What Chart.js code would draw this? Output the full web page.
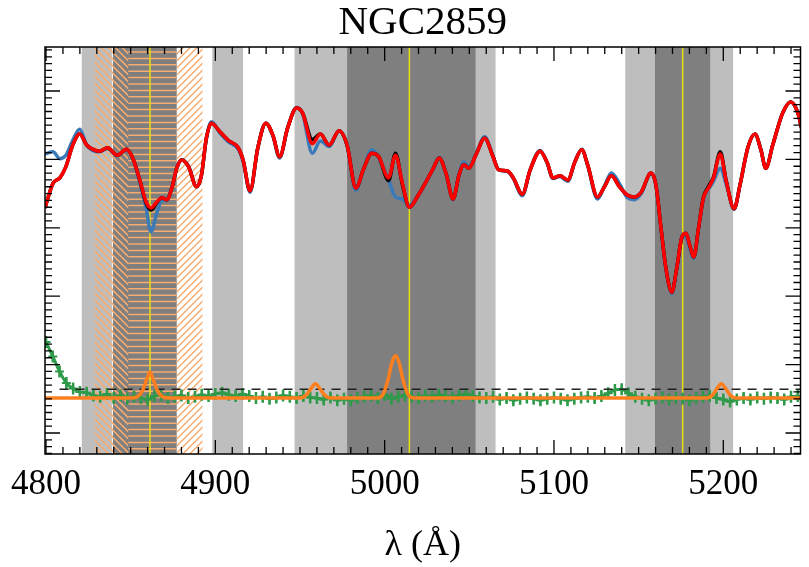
<!DOCTYPE html>
<html>
<head>
<meta charset="utf-8">
<script src="https://cdn.jsdelivr.net/npm/chart.js"></script>
<style>
  html, body { margin: 0; padding: 0; background: #fff; }
  #wrap { width: 809px; height: 567px; }
</style>
</head>
<body>
<div id="wrap"><canvas id="spec"></canvas></div>
<script>
// wavelength grid (Angstrom) shared by galaxy / best fit / stellar fit
const wave = [4799.4, 4804.1, 4808.2, 4811.7, 4815.8, 4819.9, 4824.0, 4827.5, 4831.6, 4836.3,
  4842.1, 4847.4, 4850.9, 4855.0, 4859.1, 4862.0, 4865.5, 4868.4, 4871.3, 4874.3,
  4877.2, 4880.1, 4884.2, 4888.9, 4891.8, 4894.7, 4897.7, 4902.9, 4907.6, 4913.5,
  4916.4, 4920.5, 4925.1, 4929.8, 4933.9, 4938.0, 4942.7, 4948.0, 4951.5, 4957.3,
  4962.0, 4967.3, 4973.1, 4977.8, 4983.0, 4987.7, 4992.4, 4996.5, 5002.3, 5006.4,
  5010.5, 5014.6, 5019.9, 5024.6, 5028.7, 5032.2, 5036.3, 5040.4, 5043.9, 5046.8,
  5049.7, 5053.8, 5059.1, 5063.7, 5067.3, 5072.5, 5076.0, 5081.3, 5086.0, 5091.8,
  5095.9, 5099.4, 5103.5, 5108.2, 5112.3, 5116.4, 5119.9, 5125.7, 5129.8, 5133.9,
  5138.6, 5143.3, 5147.4, 5151.5, 5157.3, 5160.2, 5163.2, 5166.1, 5169.6, 5172.5,
  5175.4, 5177.8, 5180.7, 5182.5, 5185.4, 5188.3, 5191.2, 5194.2, 5198.2, 5201.8,
  5206.4, 5209.9, 5214.6, 5218.7, 5222.2, 5225.1, 5229.2, 5235.1, 5239.8, 5243.9, 5246.2];

const bestFit = [0.629, 0.665, 0.673, 0.689, 0.721, 0.737, 0.721, 0.715, 0.712, 0.717,
  0.706, 0.715, 0.704, 0.673, 0.638, 0.629, 0.638, 0.644, 0.641, 0.658,
  0.687, 0.699, 0.689, 0.660, 0.677, 0.731, 0.753, 0.740, 0.728, 0.717,
  0.699, 0.654, 0.717, 0.753, 0.736, 0.704, 0.746, 0.775, 0.768, 0.723,
  0.737, 0.721, 0.742, 0.721, 0.658, 0.687, 0.709, 0.704, 0.673, 0.706,
  0.665, 0.630, 0.648, 0.668, 0.687, 0.702, 0.679, 0.642, 0.677, 0.692,
  0.687, 0.706, 0.731, 0.706, 0.685, 0.683, 0.673, 0.649, 0.685, 0.712,
  0.696, 0.673, 0.676, 0.670, 0.696, 0.714, 0.692, 0.645, 0.660, 0.676,
  0.660, 0.648, 0.645, 0.652, 0.680, 0.663, 0.600, 0.541, 0.506, 0.541,
  0.585, 0.592, 0.570, 0.557, 0.600, 0.644, 0.658, 0.673, 0.708, 0.667,
  0.628, 0.663, 0.718, 0.737, 0.714, 0.687, 0.721, 0.768, 0.784, 0.769, 0.746];

const stars = [0.708, 0.711, 0.701, 0.706, 0.728, 0.744, 0.721, 0.713, 0.711, 0.716,
  0.705, 0.714, 0.703, 0.670, 0.629, 0.594, 0.622, 0.640, 0.641, 0.658,
  0.687, 0.700, 0.690, 0.660, 0.677, 0.730, 0.755, 0.738, 0.726, 0.715,
  0.697, 0.652, 0.717, 0.753, 0.735, 0.702, 0.746, 0.776, 0.767, 0.709,
  0.727, 0.719, 0.742, 0.720, 0.655, 0.687, 0.714, 0.703, 0.670, 0.645,
  0.642, 0.633, 0.648, 0.668, 0.686, 0.703, 0.678, 0.641, 0.678, 0.696,
  0.689, 0.707, 0.733, 0.707, 0.685, 0.682, 0.672, 0.647, 0.685, 0.713,
  0.695, 0.672, 0.675, 0.668, 0.696, 0.715, 0.691, 0.642, 0.661, 0.680,
  0.665, 0.644, 0.641, 0.650, 0.679, 0.662, 0.599, 0.540, 0.504, 0.540,
  0.583, 0.588, 0.566, 0.555, 0.599, 0.643, 0.656, 0.668, 0.687, 0.663,
  0.627, 0.663, 0.718, 0.737, 0.714, 0.687, 0.721, 0.768, 0.784, 0.769, 0.746];

const galaxy = [0.629, 0.665, 0.673, 0.689, 0.721, 0.737, 0.721, 0.715, 0.712, 0.717,
  0.706, 0.715, 0.704, 0.673, 0.636, 0.626, 0.637, 0.644, 0.641, 0.658,
  0.687, 0.699, 0.689, 0.660, 0.677, 0.731, 0.753, 0.740, 0.728, 0.717,
  0.699, 0.654, 0.717, 0.753, 0.736, 0.704, 0.746, 0.775, 0.768, 0.729,
  0.737, 0.721, 0.742, 0.721, 0.658, 0.687, 0.709, 0.704, 0.669, 0.709,
  0.663, 0.630, 0.648, 0.668, 0.687, 0.702, 0.679, 0.642, 0.677, 0.692,
  0.687, 0.706, 0.731, 0.706, 0.685, 0.683, 0.673, 0.649, 0.685, 0.712,
  0.696, 0.673, 0.676, 0.670, 0.696, 0.714, 0.692, 0.645, 0.660, 0.676,
  0.660, 0.648, 0.645, 0.652, 0.680, 0.663, 0.600, 0.541, 0.506, 0.541,
  0.585, 0.592, 0.570, 0.557, 0.600, 0.645, 0.660, 0.674, 0.711, 0.668,
  0.628, 0.663, 0.718, 0.737, 0.714, 0.687, 0.721, 0.768, 0.784, 0.769, 0.746];

// residuals (offset), sampled every 4 A
const resWave = [4800, 4804, 4808, 4812, 4816, 4820, 4824, 4828, 4832, 4836,
  4840, 4844, 4848, 4852, 4856, 4860, 4864, 4868, 4872, 4876,
  4880, 4884, 4888, 4892, 4896, 4900, 4904, 4908, 4912, 4916,
  4920, 4924, 4928, 4932, 4936, 4940, 4944, 4948, 4952, 4956,
  4960, 4964, 4968, 4972, 4976, 4980, 4984, 4988, 4992, 4996,
  5000, 5004, 5008, 5012, 5016, 5020, 5024, 5028, 5032, 5036,
  5040, 5044, 5048, 5052, 5056, 5060, 5064, 5068, 5072, 5076,
  5080, 5084, 5088, 5092, 5096, 5100, 5104, 5108, 5112, 5116,
  5120, 5124, 5128, 5132, 5136, 5140, 5144, 5148, 5152, 5156,
  5160, 5164, 5168, 5172, 5176, 5180, 5184, 5188, 5192, 5196,
  5200, 5204, 5208, 5212, 5216, 5220, 5224, 5228, 5232, 5236, 5240, 5244];

const resid = [0.433, 0.412, 0.390, 0.373, 0.365, 0.360, 0.359, 0.355, 0.353, 0.357,
  0.351, 0.355, 0.350, 0.353, 0.351, 0.349, 0.354, 0.355, 0.351, 0.353,
  0.355, 0.351, 0.353, 0.356, 0.354, 0.357, 0.359, 0.356, 0.354, 0.357,
  0.354, 0.351, 0.353, 0.350, 0.352, 0.355, 0.353, 0.351, 0.354, 0.352,
  0.351, 0.349, 0.352, 0.348, 0.350, 0.348, 0.351, 0.353, 0.355, 0.351,
  0.356, 0.350, 0.353, 0.355, 0.353, 0.351, 0.355, 0.353, 0.356, 0.354,
  0.352, 0.355, 0.357, 0.354, 0.352, 0.351, 0.353, 0.349, 0.351, 0.348,
  0.350, 0.352, 0.350, 0.348, 0.350, 0.352, 0.350, 0.348, 0.350, 0.352,
  0.353, 0.351, 0.354, 0.358, 0.363, 0.364, 0.358, 0.353, 0.350, 0.348,
  0.350, 0.352, 0.349, 0.351, 0.350, 0.348, 0.351, 0.353, 0.354, 0.351,
  0.349, 0.346, 0.349, 0.351, 0.349, 0.352, 0.350, 0.352, 0.351, 0.349, 0.353, 0.354];

// gas emission component
const gasWave = [4799.4, 4850, 4854, 4857, 4859.5, 4861.4, 4863.3, 4865.8, 4868.8, 4873,
  4950, 4953.5, 4956.5, 4959.1, 4961.7, 4964.7, 4968,
  4995, 4999, 5002, 5004.3, 5006.4, 5008.5, 5010.8, 5013.8, 5017.5,
  5190, 5193.5, 5196.3, 5198.8, 5201.4, 5204.2, 5207.5, 5246.2];
const gas = [0.351, 0.351, 0.353, 0.362, 0.378, 0.389, 0.378, 0.362, 0.353, 0.351,
  0.351, 0.355, 0.365, 0.372, 0.365, 0.355, 0.351,
  0.351, 0.356, 0.378, 0.403, 0.413, 0.403, 0.378, 0.356, 0.351,
  0.351, 0.355, 0.365, 0.372, 0.365, 0.355, 0.351, 0.351];

const zeroLevel = [[4808, 0.364], [5246.2, 0.364]];

// shaded regions
const lightBands = [[4821.1, 4838.9], [4898.2, 4916.4], [4946.8, 4977.8], [5053.8, 5065.5], [5142.1, 5159.6], [5192.4, 5205.8]];
const darkBands = [[4839.5, 4877.2], [4977.8, 5053.8], [5159.6, 5192.4]];
const hatchBack = [[4828.7, 4848.5]];
const hatchFlat = [[4848.5, 4877.2]];
const hatchFwd = [[4877.2, 4892.4]];
const lineMarks = [4861.4, 5014.6, 5176.0];

const xMajor = [4800, 4900, 5000, 5100, 5200];

const pts = (xs, ys) => xs.map((v, i) => ({ x: v, y: ys[i] }));

const bands = {
  id: 'bands',
  beforeDatasetsDraw(chart) {
    const { ctx, chartArea: a, scales: { x } } = chart;
    ctx.save();
    ctx.beginPath();
    ctx.rect(a.left, a.top, a.right - a.left, a.bottom - a.top);
    ctx.clip();
    const px = v => x.getPixelForValue(v);
    const h = a.bottom - a.top;
    lightBands.forEach(b => { ctx.fillStyle = '#bebebe'; ctx.fillRect(px(b[0]), a.top, px(b[1]) - px(b[0]), h); });
    darkBands.forEach(b => { ctx.fillStyle = '#7f7f7f'; ctx.fillRect(px(b[0]), a.top, px(b[1]) - px(b[0]), h); });

    ctx.strokeStyle = '#f6ab70';
    ctx.lineWidth = 1.5;
    const hatch = (list, kind) => list.forEach(b => {
      const x0 = px(b[0]), x1 = px(b[1]);
      ctx.save();
      ctx.beginPath(); ctx.rect(x0, a.top, x1 - x0, h); ctx.clip();
      ctx.beginPath();
      if (kind === 'flat') {
        for (let y = a.top + 5; y < a.bottom; y += 6.4) { ctx.moveTo(x0, y); ctx.lineTo(x1, y); }
      } else {
        for (let s = x0 - h; s < x1 + h; s += 7) {
          if (kind === 'back') { ctx.moveTo(s, a.top); ctx.lineTo(s + h, a.bottom); }
          else { ctx.moveTo(s, a.bottom); ctx.lineTo(s + h, a.top); }
        }
      }
      ctx.stroke();
      ctx.restore();
    });
    hatch(hatchBack, 'back');
    hatch(hatchFlat, 'flat');
    hatch(hatchFwd, 'fwd');

    ctx.strokeStyle = '#e8e010';
    ctx.lineWidth = 1.5;
    lineMarks.forEach(v => { ctx.beginPath(); ctx.moveTo(px(v), a.top); ctx.lineTo(px(v), a.bottom); ctx.stroke(); });
    ctx.restore();
  },
  afterDatasetsDraw(chart) {
    const { ctx, chartArea: a, scales: { x, y } } = chart;
    ctx.save();
    ctx.strokeStyle = '#000';
    ctx.lineWidth = 1.3;
    ctx.beginPath();
    // x ticks, major every 100 A, minor every 10 A
    for (let v = 4800; v <= 5240; v += 10) {
      const p = x.getPixelForValue(v);
      const len = xMajor.includes(v) ? 14 : 7;
      ctx.moveTo(p, a.bottom); ctx.lineTo(p, a.bottom - len);
      ctx.moveTo(p, a.top); ctx.lineTo(p, a.top + len);
    }
    // y ticks, major 0.1, minor 0.01
    for (let k = 27; k <= 86; k++) {
      const p = y.getPixelForValue(k / 100);
      const len = k % 10 === 0 ? 15 : 7;
      ctx.moveTo(a.left, p); ctx.lineTo(a.left + len, p);
      ctx.moveTo(a.right, p); ctx.lineTo(a.right - len, p);
    }
    ctx.stroke();
    ctx.lineWidth = 1.5;
    ctx.strokeRect(a.left, a.top, a.right - a.left, a.bottom - a.top);
    ctx.restore();
  }
};

const serif = 'Liberation Serif';
const green = '#2e9a4a';

new Chart(document.getElementById('spec'), {
  type: 'scatter',
  data: {
    datasets: [
      { label: 'best fit', data: pts(wave, bestFit), borderColor: '#ff0000', borderWidth: 3.5, order: 1 },
      { label: 'galaxy', data: pts(wave, galaxy), borderColor: '#000000', borderWidth: 3.5, order: 2 },
      { label: 'stars', data: pts(wave, stars), borderColor: '#3a7ab8', borderWidth: 3.5, order: 3 },
      { label: 'gas', data: pts(gasWave, gas), borderColor: '#ff7f1e', borderWidth: 3.5, order: 4 },
      { label: 'zero', data: zeroLevel, borderColor: '#222', borderWidth: 1.5, borderDash: [9, 7], tension: 0, order: 5 },
      { label: 'residuals', data: pts(resWave, resid), borderColor: green, borderWidth: 3,
        pointStyle: 'cross', pointRadius: 4.5, pointBorderWidth: 2, pointBorderColor: green, order: 6 },
      { label: 'residual errors', data: pts(resWave, resid), showLine: false,
        pointStyle: 'line', rotation: 90, pointRadius: 6, pointBorderWidth: 2.5, pointBorderColor: green, order: 7 }
    ]
  },
  options: {
    responsive: true,
    maintainAspectRatio: false,
    animation: false,
    devicePixelRatio: 1,
    showLine: true,
    elements: {
      point: { radius: 0 },
      line: { cubicInterpolationMode: 'monotone', fill: false }
    },
    layout: { padding: { right: 1 } },
    plugins: {
      legend: { display: false },
      tooltip: { enabled: false },
      title: {
        display: true, text: 'NGC2859', color: '#000', fullSize: false,
        font: { family: serif, size: 41, weight: 'normal', lineHeight: 1 },
        padding: { top: 3, bottom: 3 }
      }
    },
    scales: {
      x: {
        type: 'linear', min: 4799.4, max: 5245.6,
        afterBuildTicks: s => { s.ticks = xMajor.map(v => ({ value: v })); },
        afterFit: s => { s.height = 113; },
        grid: { display: false }, border: { display: false },
        ticks: { color: '#000', padding: 2, maxRotation: 0, font: { family: serif, size: 35 },
          callback: v => String(v) },
        title: { display: true, text: 'λ (Å)', color: '#000', padding: 0, font: { family: serif, size: 36 } }
      },
      y: {
        type: 'linear', min: 0.2693, max: 0.8643,
        afterFit: s => { s.width = 45; },
        grid: { display: false }, border: { display: false },
        ticks: { display: false }
      }
    }
  },
  plugins: [bands]
});
</script>
</body>
</html>
